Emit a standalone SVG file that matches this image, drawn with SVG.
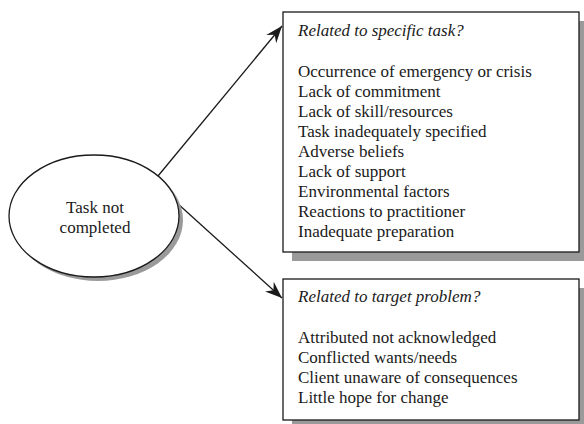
<svg xmlns="http://www.w3.org/2000/svg" width="584" height="424" viewBox="0 0 584 424">
  <style>
    .shadow { fill: #9a9a9a; stroke: none; }
    .box { fill: #ffffff; stroke: #1a1a1a; stroke-width: 1.3; }
    .txt { font-family: "Liberation Serif", "Times New Roman", serif; font-size: 17px; fill: #1a1a1a; }
    .ttl { font-style: italic; }
    .link { fill: none; stroke: #1a1a1a; stroke-width: 1.3; }
  </style>
  <defs>
    <marker id="arrow" markerUnits="userSpaceOnUse" markerWidth="20" markerHeight="16" viewBox="-18 -8 20 16" refX="0" refY="0" orient="auto">
      <path d="M0,0 L-17,-6.5 L-11.5,0 L-17,6.5 Z" fill="#1a1a1a"/>
    </marker>
  </defs>

  <rect width="584" height="424" fill="#ffffff"/>

  <!-- connectors -->
  <g id="connectors">
    <line class="link" x1="158" y1="176" x2="282" y2="26" marker-end="url(#arrow)"/>
    <line class="link" x1="177" y1="203" x2="282" y2="298" marker-end="url(#arrow)"/>
  </g>

  <!-- central node -->
  <g id="task-not-completed">
    <ellipse class="shadow" cx="98" cy="220" rx="85" ry="61"/>
    <ellipse class="box" cx="94" cy="216" rx="85" ry="61"/>
    <text class="txt" x="95" y="213" text-anchor="middle">Task not</text>
    <text class="txt" x="95" y="233" text-anchor="middle">completed</text>
  </g>

  <!-- specific task causes -->
  <g id="specific-task">
    <rect class="shadow" x="292" y="21" width="296" height="240"/>
    <rect class="box" x="283" y="12" width="296" height="240"/>
    <text class="txt ttl" x="298" y="36">Related to specific task?</text>
    <text class="txt" x="298" y="77">Occurrence of emergency or crisis</text>
    <text class="txt" x="298" y="97">Lack of commitment</text>
    <text class="txt" x="298" y="117">Lack of skill/resources</text>
    <text class="txt" x="298" y="137">Task inadequately specified</text>
    <text class="txt" x="298" y="157">Adverse beliefs</text>
    <text class="txt" x="298" y="177">Lack of support</text>
    <text class="txt" x="298" y="197">Environmental factors</text>
    <text class="txt" x="298" y="217">Reactions to practitioner</text>
    <text class="txt" x="298" y="237">Inadequate preparation</text>
  </g>

  <!-- target problem causes -->
  <g id="target-problem">
    <rect class="shadow" x="292" y="288" width="296" height="141"/>
    <rect class="box" x="283" y="279" width="296" height="141"/>
    <text class="txt ttl" x="298" y="302">Related to target problem?</text>
    <text class="txt" x="298" y="343">Attributed not acknowledged</text>
    <text class="txt" x="298" y="363">Conflicted wants/needs</text>
    <text class="txt" x="298" y="383">Client unaware of consequences</text>
    <text class="txt" x="298" y="403">Little hope for change</text>
  </g>
</svg>
